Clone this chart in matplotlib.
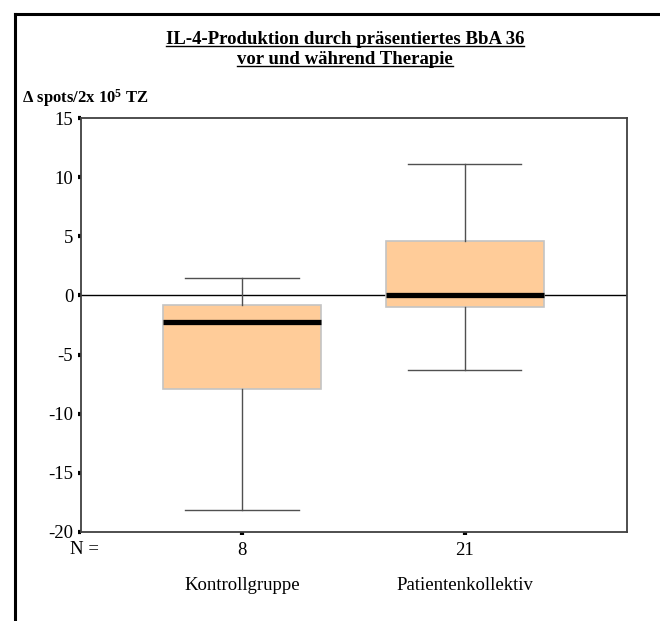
import matplotlib
matplotlib.use("Agg")
import matplotlib.pyplot as plt
from matplotlib.lines import Line2D

plt.rcParams['font.family'] = ['Liberation Serif', 'DejaVu Serif']
plt.rcParams['mathtext.fontset'] = 'custom'
plt.rcParams['mathtext.rm'] = 'Liberation Serif:bold'
plt.rcParams['mathtext.bf'] = 'Liberation Serif:bold'
plt.rcParams['mathtext.it'] = 'Liberation Serif:bold'

# data
categories = ["Kontrollgruppe", "Patientenkollektiv"]
n_values = ["8", "21"]
whisker_low = [-18.1, -6.3]
q1 = [-7.9, -0.95]
median = [-2.25, 0.0]
q3 = [-0.8, 4.62]
whisker_high = [1.5, 11.1]
yticks = [15, 10, 5, 0, -5, -10, -15, -20]
title_lines = ["IL-4-Produktion durch präsentiertes BbA 36", "vor und während Therapie"]
ylabel = r"Δ spots/2x 10$^{5}$ TZ"

FS = 13.5
W, H = 660, 621
fig = plt.figure(figsize=(W / 100, H / 100), dpi=100)
ax = fig.add_axes([81 / W, 1 - 532 / H, (627 - 81) / W, (532 - 118) / H])

stats = []
for i in range(len(categories)):
    stats.append(dict(whislo=whisker_low[i], q1=q1[i], med=median[i],
                      q3=q3[i], whishi=whisker_high[i], fliers=[]))

ax.axhline(0, color='black', lw=1.0, zorder=1)
ax.bxp(stats, positions=[1, 2], widths=0.71, patch_artist=True, showfliers=False,
       boxprops=dict(facecolor='#FFCC99', edgecolor='#c4c4c4', linewidth=1.2),
       medianprops=dict(color='black', linewidth=3.8, solid_capstyle='butt'),
       whiskerprops=dict(color='#505050', linewidth=1.0),
       capprops=dict(color='#505050', linewidth=1.0),
       capwidths=0.51, zorder=2)

ax.set_xlim(0.277, 2.729)
ax.set_ylim(-20, 15)
ax.set_yticks(yticks)
ax.set_yticklabels([str(t) for t in yticks], fontsize=FS)
ax.set_xticks([1, 2])
ax.set_xticklabels(n_values, fontsize=FS)
ax.tick_params(axis='y', direction='out', length=2.5, width=3, color='black', pad=3)
ax.tick_params(axis='x', direction='out', length=2.5, width=3, color='black', pad=4.5)
for s in ax.spines.values():
    s.set_color('#404040')
    s.set_linewidth(1.3)

# N = label and categories
fig.text(70 / W, 1 - 549 / H, "N =", fontsize=FS, ha='left', va='center')
for i, c in enumerate(categories):
    xd = ax.transData.transform((i + 1, 0))[0]
    fig.text(xd / W, 1 - 586 / H, c, fontsize=FS, ha='center', va='center')

# y label
fig.text(22 / W, 1 - 98 / H, ylabel, fontsize=12, fontweight='bold', ha='left', va='center')

# title with underline
tts = []
for k, line in enumerate(title_lines):
    t = fig.text(345 / W, 1 - (40 + 20 * k) / H, line, fontsize=13.5, fontweight='bold',
                 ha='center', va='center')
    tts.append(t)
fig.canvas.draw()
r = fig.canvas.get_renderer()
for t in tts:
    bb = t.get_window_extent(r)
    y = bb.y0 + 3
    fig.add_artist(Line2D([bb.x0 / W, bb.x1 / W], [y / H, y / H], color='black', lw=1.0,
                          transform=fig.transFigure))

# outer frame (top and left)
fig.add_artist(Line2D([15 / W, 1.0], [1 - 13.5 / H, 1 - 13.5 / H], color='black', lw=2.2,
                      transform=fig.transFigure))
fig.add_artist(Line2D([15 / W, 15 / W], [0, 1 - 13.5 / H], color='black', lw=2.2,
                      transform=fig.transFigure))

fig.savefig("out.png", dpi=100)
